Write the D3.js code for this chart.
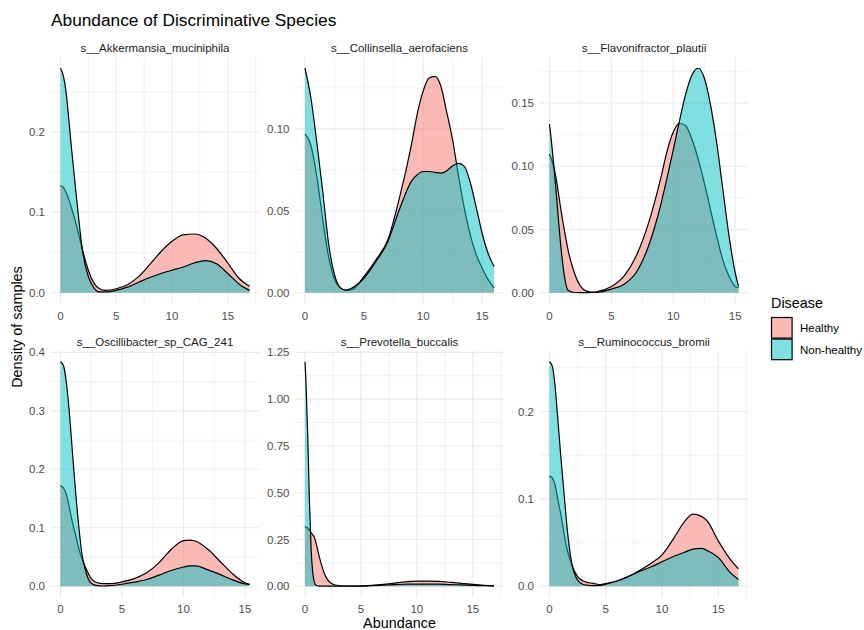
<!DOCTYPE html>
<html>
<head>
<meta charset="utf-8">
<script src="https://cdn.jsdelivr.net/npm/d3@7"></script>
<style>
  body { margin: 0; background: #fff; }
  text { font-family: "Liberation Sans", Arial, sans-serif; }
</style>
</head>
<body>
<svg width="864" height="630"></svg>
<script>
// species shown in each facet (row-wise)
var species = ["s__Akkermansia_muciniphila", "s__Collinsella_aerofaciens", "s__Flavonifractor_plautii",
  "s__Oscillibacter_sp_CAG_241", "s__Prevotella_buccalis", "s__Ruminococcus_bromii"];
var groups = ["Healthy", "Non-healthy"];
var colors = ["#F8766D", "#00BFC4"];

// abundance grid, one per facet
var abundance = [
  [0, 0.25, 0.5, 0.75, 1, 1.5, 2, 2.5, 3, 3.5, 4, 5, 6, 7, 8, 9, 10, 11, 12, 13, 14, 15, 16, 16.95],
  [0, 0.5, 1, 1.5, 2, 2.5, 3, 3.5, 4, 5, 6, 7, 8, 9, 9.5, 10, 10.5, 11, 11.5, 12, 12.5, 13, 13.5, 14, 14.5, 15, 15.5, 16],
  [0, 0.25, 0.5, 0.75, 1, 1.25, 1.5, 2, 2.5, 3, 3.5, 4, 5, 6, 7, 8, 8.5, 9, 9.5, 10, 10.5, 11, 11.5, 12, 12.5, 13, 13.5, 14, 14.5, 15, 15.27],
  [0, 0.25, 0.5, 0.75, 1, 1.25, 1.5, 1.75, 2, 2.5, 3, 3.5, 4, 5, 6, 7, 8, 9, 10, 10.5, 11, 12, 13, 14, 15, 15.37],
  [0, 0.1, 0.25, 0.4, 0.55, 0.7, 0.85, 1, 1.25, 1.5, 1.75, 2, 2.5, 3, 4, 5, 6, 7, 8, 9, 10, 11, 12, 13, 14, 15, 16, 16.9],
  [0, 0.25, 0.5, 0.75, 1, 1.25, 1.5, 1.75, 2, 2.5, 3, 3.5, 4, 4.5, 5, 6, 7, 8, 9, 10, 11, 12, 12.75, 13.5, 14, 15, 16, 16.8]
];

// density of Healthy samples
var healthy = [
  [0.133, 0.131, 0.125, 0.116, 0.105, 0.08, 0.052, 0.028, 0.012, 0.005, 0.003, 0.005, 0.010, 0.020, 0.035, 0.051, 0.064, 0.072, 0.073, 0.068, 0.055, 0.037, 0.018, 0.008],
  [0.097, 0.09, 0.071, 0.045, 0.022, 0.008, 0.003, 0.0015, 0.002, 0.01, 0.02, 0.032, 0.058, 0.09, 0.109, 0.123, 0.131, 0.132, 0.126, 0.11, 0.093, 0.071, 0.051, 0.035, 0.023, 0.015, 0.008, 0.003],
  [0.1096, 0.103, 0.0925, 0.077, 0.061, 0.047, 0.034, 0.016, 0.0053, 0.0013, 0.0005, 0.0013, 0.005, 0.013, 0.029, 0.055, 0.072, 0.091, 0.112, 0.127, 0.134, 0.132, 0.1215, 0.106, 0.087, 0.066, 0.045, 0.026, 0.013, 0.005, 0.004],
  [0.172, 0.168, 0.156, 0.132, 0.107, 0.086, 0.064, 0.047, 0.034, 0.013, 0.006, 0.0046, 0.0046, 0.0075, 0.013, 0.023, 0.04, 0.063, 0.078, 0.079, 0.077, 0.063, 0.042, 0.021, 0.006, 0.0035],
  [0.319, 0.317, 0.31, 0.30, 0.285, 0.275, 0.26, 0.23, 0.165, 0.11, 0.066, 0.037, 0.011, 0.004, 0.0008, 0.002, 0.005, 0.01, 0.017, 0.024, 0.028, 0.028, 0.026, 0.021, 0.016, 0.01, 0.005, 0.002],
  [0.126, 0.124, 0.116, 0.099, 0.083, 0.064, 0.046, 0.034, 0.024, 0.011, 0.006, 0.004, 0.003, 0.002, 0.003, 0.006, 0.011, 0.018, 0.026, 0.036, 0.054, 0.074, 0.0825, 0.08, 0.075, 0.052, 0.032, 0.02]
];

// density of Non-healthy samples
var nonHealthy = [
  [0.279, 0.27, 0.25, 0.215, 0.178, 0.11, 0.05, 0.02, 0.006, 0.001, 0.001, 0.003, 0.007, 0.013, 0.019, 0.024, 0.028, 0.032, 0.037, 0.040, 0.036, 0.024, 0.011, 0.003],
  [0.137, 0.119, 0.092, 0.062, 0.03, 0.011, 0.003, 0.0016, 0.003, 0.009, 0.019, 0.031, 0.051, 0.068, 0.072, 0.074, 0.074, 0.0735, 0.073, 0.0745, 0.0775, 0.079, 0.077, 0.067, 0.052, 0.036, 0.024, 0.016],
  [0.1334, 0.111, 0.0845, 0.055, 0.029, 0.0106, 0.002, 0.0002, 0.0001, 0.0001, 0.0002, 0.0005, 0.003, 0.0066, 0.016, 0.037, 0.052, 0.07, 0.091, 0.113, 0.136, 0.157, 0.172, 0.1775, 0.17, 0.149, 0.119, 0.082, 0.045, 0.016, 0.005],
  [0.384, 0.377, 0.345, 0.29, 0.222, 0.157, 0.1, 0.055, 0.03, 0.005, 0.001, 0.0005, 0.001, 0.0035, 0.007, 0.0115, 0.019, 0.027, 0.033, 0.035, 0.035, 0.028, 0.02, 0.011, 0.004, 0.003],
  [1.2, 1.08, 0.80, 0.46, 0.2, 0.07, 0.02, 0.005, 0.001, 0.0005, 0.0003, 0.0003, 0.0003, 0.0003, 0.0005, 0.001, 0.003, 0.006, 0.009, 0.011, 0.012, 0.012, 0.011, 0.009, 0.007, 0.005, 0.003, 0.002],
  [0.257, 0.252, 0.229, 0.19, 0.15, 0.113, 0.076, 0.046, 0.025, 0.007, 0.002, 0.001, 0.0008, 0.001, 0.0023, 0.006, 0.011, 0.017, 0.022, 0.028, 0.034, 0.039, 0.0425, 0.0433, 0.041, 0.033, 0.0165, 0.0077]
];

// tick labels per facet
var xTicks = [0, 5, 10, 15];
var yTicks = [
  ["0.0", "0.1", "0.2"],
  ["0.00", "0.05", "0.10"],
  ["0.00", "0.05", "0.10", "0.15"],
  ["0.0", "0.1", "0.2", "0.3", "0.4"],
  ["0.00", "0.25", "0.50", "0.75", "1.00", "1.25"],
  ["0.0", "0.1", "0.2"]
];

var svg = d3.select("svg");
var colLeft = [51, 295.5, 540], rowTop = [57, 350.5];
var pw = 208, ph = 247;
var grid = "#ebebeb";

function withMinors(vals, dom) {
  var step = vals[1] - vals[0];
  var out = [];
  for (var i = -1; i < vals.length; i++) {
    var m = (i < 0 ? vals[0] - step : vals[i]) + step / 2;
    if (m >= dom[0] && m <= dom[1]) out.push(m);
  }
  return out;
}

species.forEach(function(name, k) {
  var left = colLeft[k % 3], top = rowTop[Math.floor(k / 3)];
  var xs = abundance[k];
  var xMax = d3.max(xs);
  var yMax = d3.max(healthy[k].concat(nonHealthy[k]));

  var x = d3.scaleLinear().domain([-0.05 * xMax, 1.05 * xMax]).range([0, pw]);
  var y = d3.scaleLinear().domain([-0.05 * yMax, 1.05 * yMax]).range([ph, 0]);
  var yVals = yTicks[k].map(Number);

  var g = svg.append("g").attr("transform", "translate(" + left + "," + top + ")");

  g.append("clipPath").attr("id", "clip" + k)
    .append("rect").attr("width", pw).attr("height", ph);

  // grid
  g.selectAll(".vminor").data(withMinors(xTicks, x.domain())).enter().append("line")
    .attr("x1", function(d) { return x(d); }).attr("x2", function(d) { return x(d); })
    .attr("y1", 0).attr("y2", ph).attr("stroke", grid).attr("stroke-width", 0.6);
  g.selectAll(".hminor").data(withMinors(yVals, y.domain())).enter().append("line")
    .attr("y1", function(d) { return y(d); }).attr("y2", function(d) { return y(d); })
    .attr("x1", 0).attr("x2", pw).attr("stroke", grid).attr("stroke-width", 0.6);
  g.selectAll(".vmajor").data(xTicks).enter().append("line")
    .attr("x1", function(d) { return x(d); }).attr("x2", function(d) { return x(d); })
    .attr("y1", 0).attr("y2", ph).attr("stroke", grid).attr("stroke-width", 1.1);
  g.selectAll(".hmajor").data(yVals).enter().append("line")
    .attr("y1", function(d) { return y(d); }).attr("y2", function(d) { return y(d); })
    .attr("x1", 0).attr("x2", pw).attr("stroke", grid).attr("stroke-width", 1.1);

  // densities
  var area = d3.area().x(function(d) { return x(d[0]); }).y0(y(0)).y1(function(d) { return y(d[1]); })
    .curve(d3.curveMonotoneX);
  var line = d3.line().x(function(d) { return x(d[0]); }).y(function(d) { return y(d[1]); })
    .curve(d3.curveMonotoneX);

  var plot = g.append("g").attr("clip-path", "url(#clip" + k + ")");
  [healthy[k], nonHealthy[k]].forEach(function(vals, gi) {
    var pts = xs.map(function(v, i) { return [v, vals[i]]; });
    plot.append("path").attr("d", area(pts)).attr("fill", colors[gi]).attr("fill-opacity", 0.5);
    plot.append("path").attr("d", line(pts)).attr("fill", "none")
      .attr("stroke", "#000").attr("stroke-width", 1.2);
  });

  // tick labels
  g.selectAll(".xl").data(xTicks).enter().append("text")
    .attr("x", function(d) { return x(d); }).attr("y", ph + 15.8)
    .attr("text-anchor", "middle").attr("font-size", 11.5).attr("fill", "#4d4d4d")
    .text(function(d) { return d; });
  g.selectAll(".yl").data(yTicks[k]).enter().append("text")
    .attr("x", -6).attr("y", function(d) { return y(+d); }).attr("dy", "0.35em")
    .attr("text-anchor", "end").attr("font-size", 11.5).attr("fill", "#4d4d4d")
    .text(function(d) { return d; });

  // strip
  g.append("text").attr("x", pw / 2).attr("y", -5).attr("text-anchor", "middle")
    .attr("font-size", 11.5).attr("fill", "#1a1a1a").text(name);
});

// titles
svg.append("text").attr("x", 51).attr("y", 26).attr("font-size", 17.3).attr("fill", "#000")
  .text("Abundance of Discriminative Species");
svg.append("text").attr("x", 399.5).attr("y", 628).attr("text-anchor", "middle")
  .attr("font-size", 14.4).attr("fill", "#000").text("Abundance");
svg.append("text").attr("transform", "translate(21.5,327) rotate(-90)").attr("text-anchor", "middle")
  .attr("font-size", 14.4).attr("fill", "#000").text("Density of samples");

// legend
var leg = svg.append("g").attr("transform", "translate(771,308)");
leg.append("text").attr("x", 0).attr("y", 0).attr("font-size", 14.4).attr("fill", "#000").text("Disease");
groups.forEach(function(gname, i) {
  leg.append("rect").attr("x", 0.5).attr("y", 9.5 + i * 21.6).attr("width", 20.6).attr("height", 20.6)
    .attr("fill", colors[i]).attr("fill-opacity", 0.5).attr("stroke", "#000").attr("stroke-width", 1.2);
  leg.append("text").attr("x", 29).attr("y", 20 + i * 21.6).attr("dy", "0.35em")
    .attr("font-size", 11.5).attr("fill", "#000").text(gname);
});
</script>
</body>
</html>
